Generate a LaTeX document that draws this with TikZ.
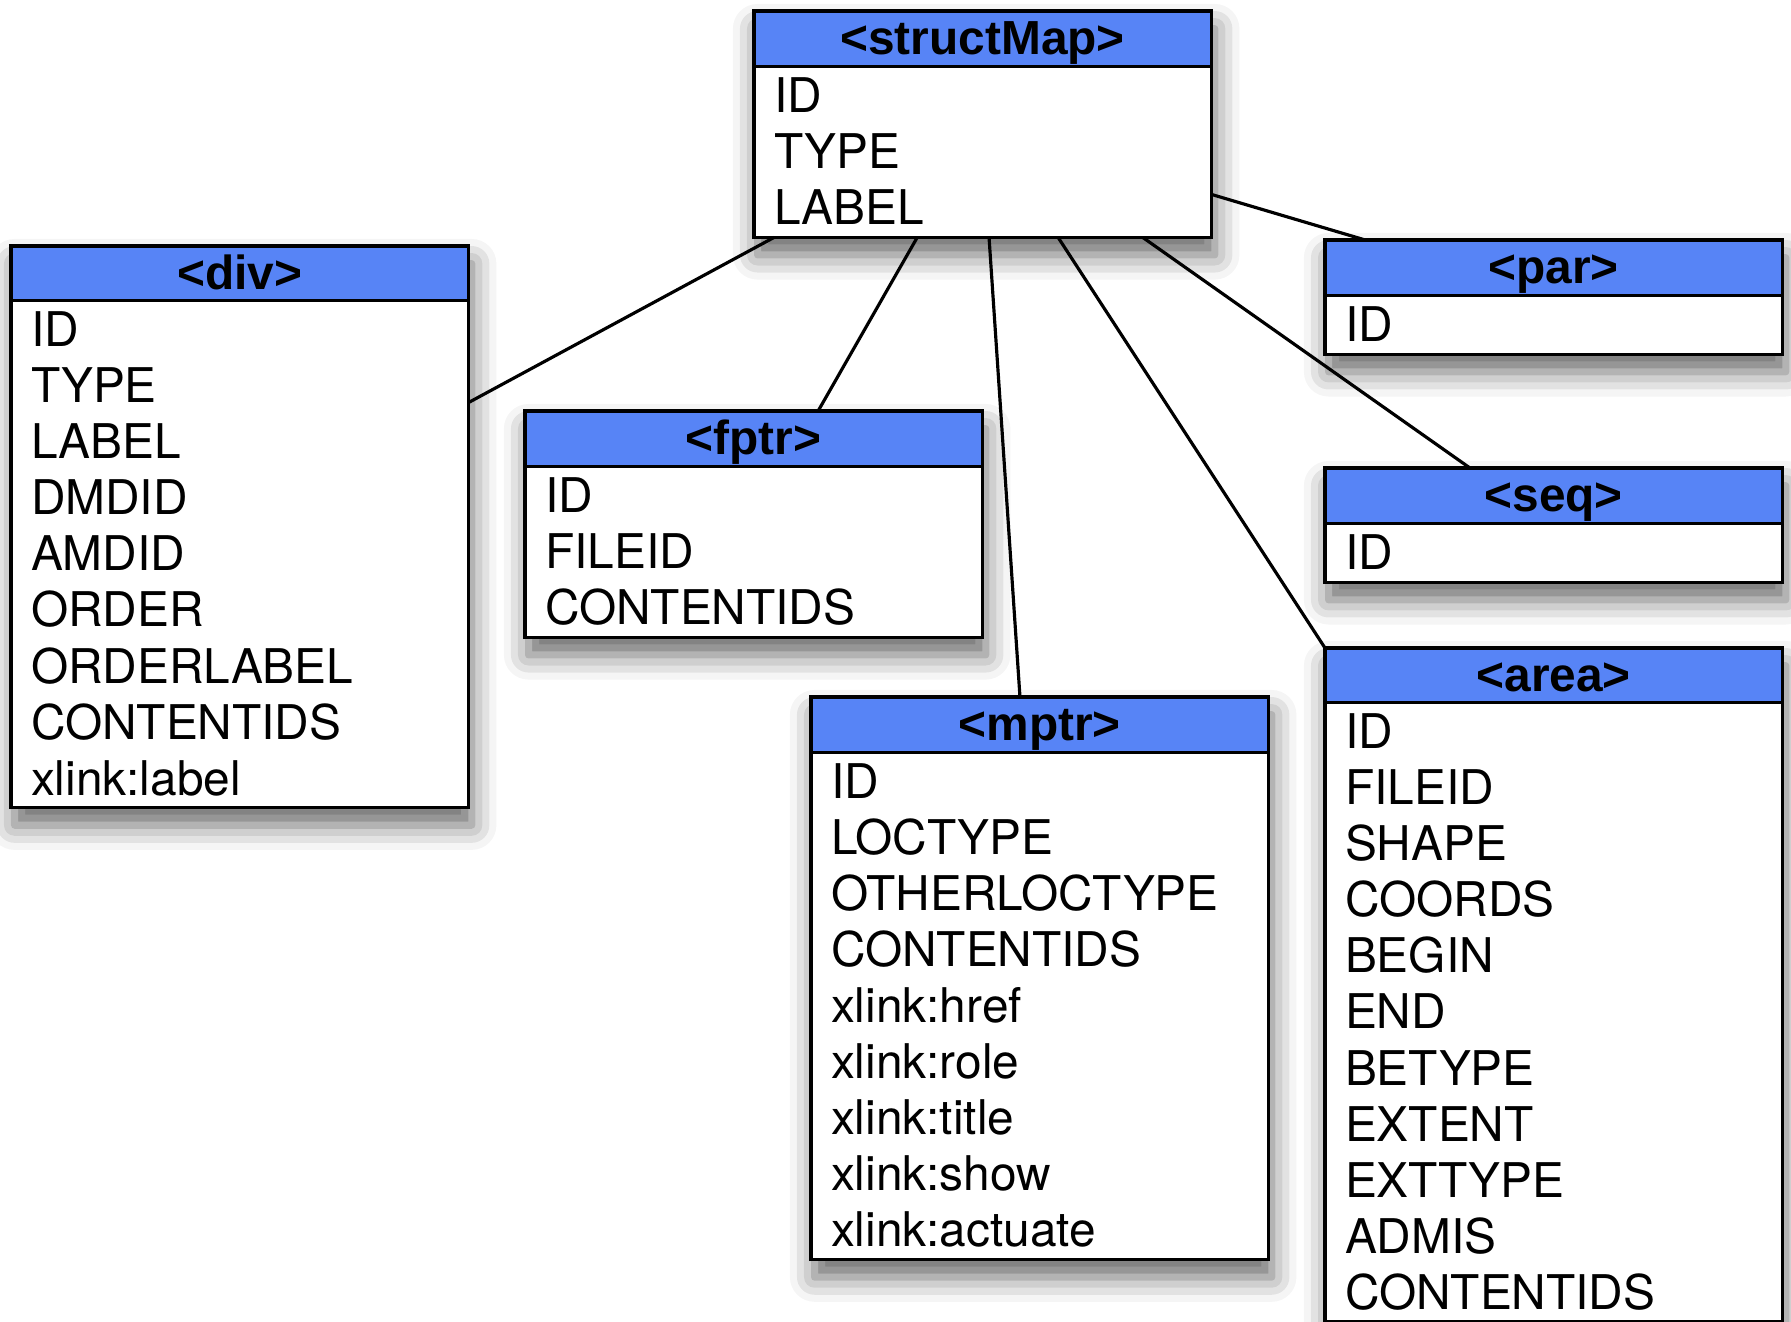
\documentclass[tikz,border=0pt]{standalone}
\usepackage{fontspec}
\setmainfont{TeX Gyre Heros}
\newfontfamily\hdrfont{Liberation Sans}
\usetikzlibrary{shapes.multipart,shadows.blur,calc,backgrounds}
\definecolor{hdrblue}{RGB}{87,132,246}
\newcommand{\rs}{\rule[-0.11cm]{0pt}{0.56cm}}
\newcommand{\hs}{\rule[-0.09cm]{0pt}{0.51cm}}
\newcommand{\hdr}[1]{\makebox[\linewidth]{\hs\hdrfont\bfseries <#1>}}
\begin{document}
\begin{tikzpicture}[x=0.01cm,y=-0.01cm,
  elem/.style={rectangle split, rectangle split parts=2, draw, line width=0.9pt,
    rectangle split part fill={hdrblue,white}, text width=4.17cm, align=left,
    inner xsep=0.2cm, inner ysep=0pt, outer sep=0pt, anchor=north west,
    font={\fontsize{13.6pt}{0.56cm}\selectfont\lineskiplimit=-5pt}},
  shade/.style={blur shadow={shadow xshift=1pt, shadow yshift=-5pt, shadow blur radius=7pt, shadow opacity=60}},
  link/.style={line width=0.9pt}]

\useasboundingbox (0,0) rectangle (1791,1321);

\node[elem] (smap) at (754,11) {\hdr{structMap}\nodepart{two}\rs ID\\\rs TYPE\\\rs LABEL};

\node[elem] (div) at (11,246) {\hdr{div}\nodepart{two}\rs ID\\\rs TYPE\\\rs LABEL\\\rs DMDID\\\rs AMDID\\\rs ORDER\\\rs ORDERLABEL\\\rs CONTENTIDS\\\rs xlink:label};

\node[elem] (fptr) at (525,411) {\hdr{fptr}\nodepart{two}\rs ID\\\rs FILEID\\\rs CONTENTIDS};

\node[elem] (par) at (1325,240) {\hdr{par}\nodepart{two}\rs ID};
\node[elem] (seq) at (1325,468) {\hdr{seq}\nodepart{two}\rs ID};

\node[elem] (mptr) at (811,697) {\hdr{mptr}\nodepart{two}\rs ID\\\rs LOCTYPE\\\rs OTHERLOCTYPE\\\rs CONTENTIDS\\\rs xlink:href\\\rs xlink:role\\\rs xlink:title\\\rs xlink:show\\\rs xlink:actuate};

%% runs off the bottom
\node[elem] (area) at (1325,648) {\hdr{area}\nodepart{two}\rs ID\\\rs FILEID\\\rs SHAPE\\\rs COORDS\\\rs BEGIN\\\rs END\\\rs BETYPE\\\rs EXTENT\\\rs EXTTYPE\\\rs ADMIS\\\rs CONTENTIDS};

\begin{scope}[on background layer]
\foreach \b in {smap,div,fptr,par,seq,mptr,area}
  \path[shade] (\b.north west) rectangle (\b.south east);
\end{scope}

\draw[link] ($(smap.south west)!0.044!(smap.south east)$) -- ($(div.north east)!0.279!(div.south east)$);
\draw[link] ($(smap.south west)!0.357!(smap.south east)$) -- ($(fptr.north west)!0.641!(fptr.north east)$);
\draw[link] ($(smap.south west)!0.514!(smap.south east)$) -- ($(mptr.north west)!0.457!(mptr.north east)$);
\draw[link] ($(smap.south west)!0.665!(smap.south east)$) -- (area.north west);
\draw[link] ($(smap.south west)!0.85!(smap.south east)$) -- ($(seq.north west)!0.317!(seq.north east)$);
\draw[link] ($(smap.north east)!0.81!(smap.south east)$) -- ($(par.north west)!0.088!(par.north east)$);

\end{tikzpicture}
\end{document}
